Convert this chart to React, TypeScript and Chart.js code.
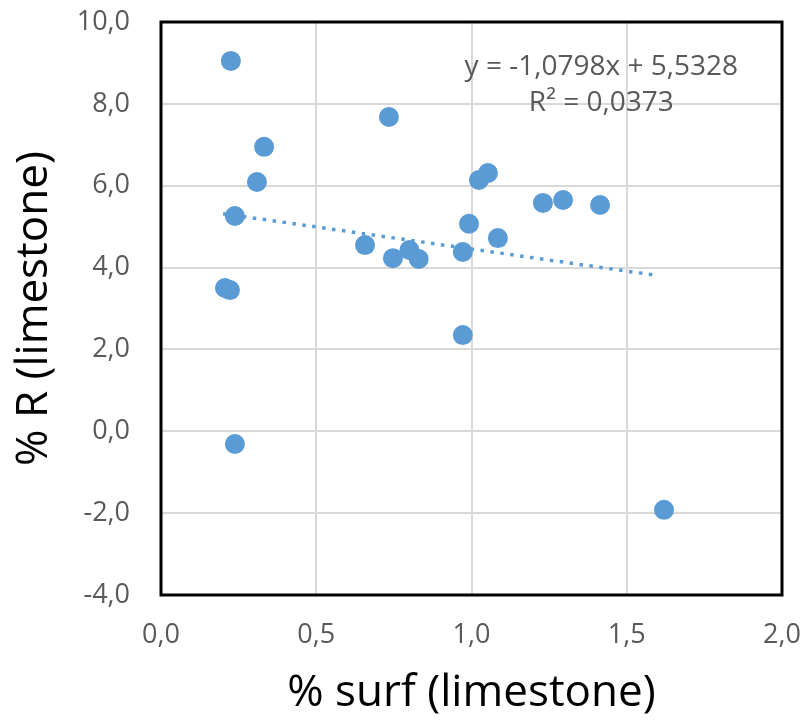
import React, { useEffect, useRef } from "react";
import { Chart, registerables } from "chart.js";
Chart.register(...registerables);

// % surf (limestone)
const surfX = [0.225, 0.734, 0.332, 0.309, 0.238, 0.206, 0.222, 0.238, 0.657, 0.747, 0.80, 0.83, 0.972, 0.992, 1.024, 1.053, 1.085, 0.972, 1.23, 1.295, 1.414, 1.62];
// % R (limestone)
const rY = [9.05, 7.68, 6.95, 6.09, 5.26, 3.50, 3.45, -0.31, 4.55, 4.23, 4.43, 4.21, 4.38, 5.07, 6.14, 6.31, 4.72, 2.35, 5.58, 5.65, 5.53, -1.92];

const trendSlope = -1.0798;
const trendIntercept = 5.5328;
const trendRange = [0.2, 1.6];
const equationText = "y = -1,0798x + 5,5328";
const r2Text = "R\u00B2 = 0,0373";

const xTitle = "% surf (limestone)";
const yTitle = "% R (limestone)";

const BLUE = "#5b9bd5";
const FONT = "'Open Sans', 'Noto Sans', sans-serif";

const fmt = (v: number) => Number(v).toFixed(1).replace(".", ",");

const framePlugin = {
  id: "frameAndEquation",
  afterDatasetsDraw(chart: any) {
    const { ctx, chartArea: a, scales } = chart;
    ctx.save();
    ctx.strokeStyle = "#000";
    ctx.lineWidth = 3;
    ctx.strokeRect(a.left, a.top, a.right - a.left, a.bottom - a.top);
    ctx.fillStyle = "#595959";
    ctx.font = `28px ${FONT}`;
    ctx.textAlign = "center";
    ctx.textBaseline = "middle";
    const cx = scales.x.getPixelForValue(1.418);
    ctx.fillText(equationText, cx, scales.y.getPixelForValue(8.9));
    ctx.fillText(r2Text, cx, scales.y.getPixelForValue(8.02));
    ctx.restore();
  },
};

const zeroPad = (s: any) => {
  s.paddingTop = 0;
  s.paddingBottom = 0;
  s.paddingLeft = 0;
  s.paddingRight = 0;
};

export default function App() {
  const ref = useRef<HTMLCanvasElement>(null);
  useEffect(() => {
    if (!ref.current) return;
    const trendData = trendRange.map((x) => ({ x, y: trendSlope * x + trendIntercept }));
    const chart = new Chart(ref.current, {
      type: "scatter",
      data: {
        datasets: [
          {
            type: "line",
            data: trendData,
            borderColor: BLUE,
            borderWidth: 3.5,
            borderDash: [3.5, 6.5],
            pointRadius: 0,
            fill: false,
            order: 0,
          } as any,
          {
            data: surfX.map((x, i) => ({ x, y: rY[i] })),
            backgroundColor: BLUE,
            borderColor: BLUE,
            pointRadius: 10,
            borderWidth: 0,
            order: 1,
          },
        ],
      },
      options: {
        responsive: false,
        animation: false,
        layout: { padding: { top: 22, right: 27, left: 0, bottom: 0 } },
        plugins: { legend: { display: false }, tooltip: { enabled: false } },
        scales: {
          x: {
            type: "linear",
            min: 0,
            max: 2,
            afterFit: (s: any) => { s.height = 131; zeroPad(s); },
            ticks: { stepSize: 0.5, callback: (v: any) => fmt(v), color: "#595959", font: { size: 27, family: FONT }, padding: 24 },
            grid: { color: "#d9d9d9", lineWidth: 2, drawTicks: false },
            border: { display: false },
            title: { display: true, text: xTitle, color: "#000", font: { size: 44, family: FONT }, padding: { top: 0, bottom: 6 } },
          },
          y: {
            type: "linear",
            min: -4,
            max: 10,
            afterFit: (s: any) => { s.width = 161; zeroPad(s); },
            ticks: { stepSize: 2, callback: (v: any) => fmt(v), color: "#595959", font: { size: 27, family: FONT }, padding: 31 },
            grid: { color: "#d9d9d9", lineWidth: 2, drawTicks: false },
            border: { display: false },
            title: { display: true, text: yTitle, color: "#000", font: { size: 44, family: FONT }, padding: { top: 8, bottom: 0 } },
          },
        },
      },
      plugins: [framePlugin],
    });
    return () => chart.destroy();
  }, []);
  return (
    <div style={{ position: "absolute", left: 0, top: 0, width: 809, height: 726, background: "#fff" }}>
      <canvas ref={ref} width={809} height={726} />
    </div>
  );
}
